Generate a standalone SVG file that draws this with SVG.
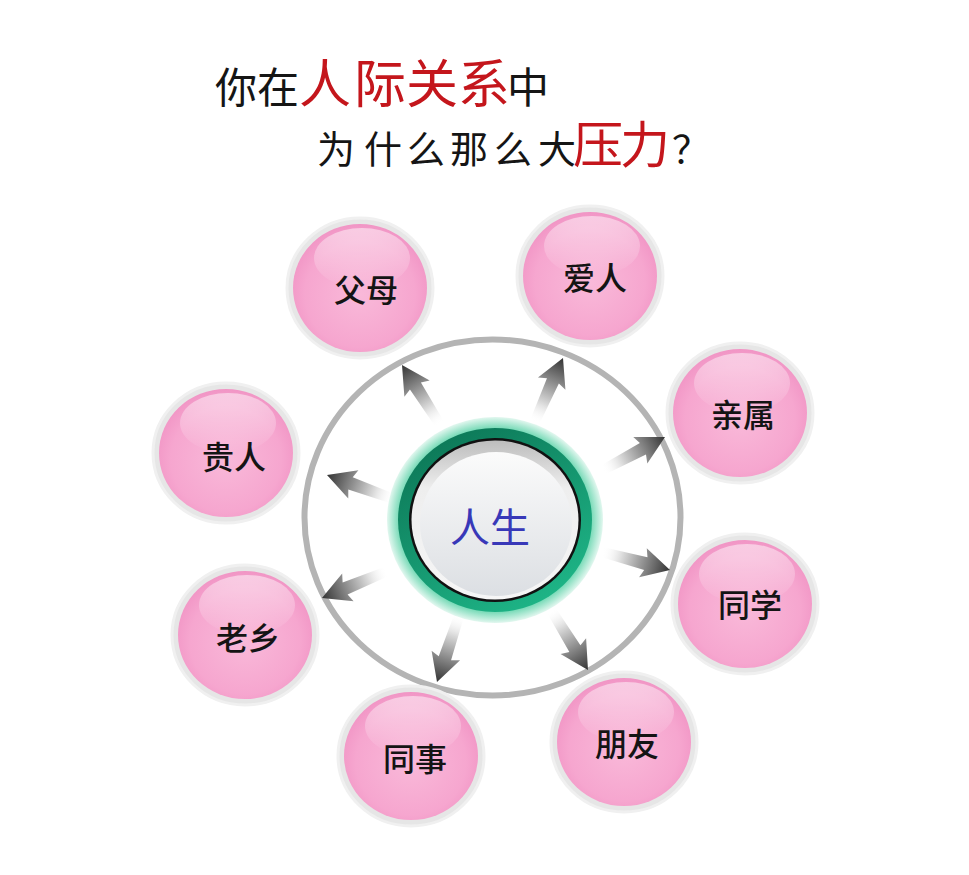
<svg xmlns="http://www.w3.org/2000/svg" width="969" height="875" viewBox="0 0 969 875">
<defs>
<style>
.ttl{font-family:"Noto Sans CJK SC","Noto Sans CJK TC",sans-serif;text-anchor:middle}
.blk{fill:#151515;font-weight:400}
.red{fill:#c4161c;font-weight:400}
.lbl{font-family:"Noto Sans CJK SC",sans-serif;font-size:32px;font-weight:500;fill:#141414;text-anchor:middle}
.halo{fill:#e6e6e6;stroke:#f0f0f0;stroke-width:3}
.pink{fill:url(#pg)}
.gloss{fill:url(#gl)}
.arr{fill:url(#ag)}
</style>
<radialGradient id="pg" cx="50%" cy="55%" r="55%">
<stop offset="0" stop-color="#f9b9d9"/>
<stop offset="0.75" stop-color="#f6a6cf"/>
<stop offset="1" stop-color="#f195c5"/>
</radialGradient>
<linearGradient id="gl" x1="0" y1="0" x2="0" y2="1">
<stop offset="0" stop-color="#ffffff" stop-opacity="0.5"/>
<stop offset="1" stop-color="#ffffff" stop-opacity="0"/>
</linearGradient>
<linearGradient id="ag" x1="0" y1="0" x2="1" y2="0">
<stop offset="0" stop-color="#ffffff" stop-opacity="0"/>
<stop offset="0.3" stop-color="#d8d8d8"/>
<stop offset="0.7" stop-color="#7a7a7a"/>
<stop offset="1" stop-color="#333333"/>
</linearGradient>
<radialGradient id="glow" cx="50%" cy="50%" r="50%">
<stop offset="0.8" stop-color="#3ec79a"/>
<stop offset="0.9" stop-color="#7fdcbb"/>
<stop offset="1" stop-color="#e2f7ef"/>
</radialGradient>
<linearGradient id="band" x1="0.2" y1="0" x2="0.8" y2="1">
<stop offset="0" stop-color="#0c7656"/>
<stop offset="1" stop-color="#1fb889"/>
</linearGradient>
<linearGradient id="rim" x1="0" y1="0" x2="0" y2="1">
<stop offset="0" stop-color="#bdbdbd"/>
<stop offset="0.3" stop-color="#eeeeee"/>
<stop offset="1" stop-color="#f6f6f6"/>
</linearGradient>
<linearGradient id="face" x1="0" y1="0" x2="0" y2="1">
<stop offset="0" stop-color="#fbfbfb"/>
<stop offset="1" stop-color="#dcdfe3"/>
</linearGradient>
<path id="arrow" d="M0,-5 L45,-6.5 L42,-15 L70,0 L42,15 L45,6.5 L0,5 Z"/>
</defs>
<rect width="969" height="875" fill="#ffffff"/>

<g id="title">
<text class="ttl" y="103"><tspan class="blk" font-size="42" x="236 278">你在</tspan><tspan class="red" font-size="52" x="325 380 432 484">人际关系</tspan><tspan class="blk" font-size="42" x="528">中</tspan></text>
<text class="ttl" y="163"><tspan class="blk" font-size="38" x="336 383 426 469 513 557">为什么那么大</tspan><tspan class="red" font-size="50" x="598 645">压力</tspan><tspan class="blk" font-size="38" x="691">？</tspan></text>
</g>

<ellipse id="ring" cx="492.5" cy="517.5" rx="188" ry="178" fill="none" stroke="#b4b4b4" stroke-width="6"/>

<g id="connectors">
<use href="#arrow" class="arr" transform="translate(402,365) rotate(-122.5) translate(-70,0)"/>
<use href="#arrow" class="arr" transform="translate(563,358) rotate(-66.2) translate(-70,0)"/>
<use href="#arrow" class="arr" transform="translate(665,437) rotate(-28) translate(-70,0)"/>
<use href="#arrow" class="arr" transform="translate(670,570) rotate(14.8) translate(-70,0)"/>
<use href="#arrow" class="arr" transform="translate(588,670) rotate(58.4) translate(-70,0)"/>
<use href="#arrow" class="arr" transform="translate(437,682) rotate(108.4) translate(-70,0)"/>
<use href="#arrow" class="arr" transform="translate(322,598) rotate(157.6) translate(-70,0)"/>
<use href="#arrow" class="arr" transform="translate(327,475) rotate(-160.2) translate(-70,0)"/>
</g>

<g id="center">
<ellipse cx="495" cy="520" rx="108" ry="103" fill="url(#glow)"/>
<ellipse cx="495" cy="520" rx="97" ry="92" fill="url(#band)"/>
<ellipse cx="495" cy="520" rx="86" ry="82" fill="#111111"/>
<ellipse cx="495" cy="520" rx="83.5" ry="79.5" fill="url(#rim)"/>
<ellipse cx="496" cy="524" rx="76" ry="72" fill="url(#face)"/>
<text x="490" y="542" font-family="Noto Sans CJK SC, sans-serif" font-size="40" fill="#3838b8" text-anchor="middle">人生</text>
</g>

<g id="n-fumu">
<ellipse class="halo" cx="360" cy="288" rx="73" ry="70"/>
<ellipse class="pink" cx="360" cy="288" rx="67" ry="64"/>
<ellipse class="gloss" cx="362" cy="258" rx="48" ry="30"/>
<text class="lbl" x="366" y="302">父母</text>
</g>
<g id="n-airen">
<ellipse class="halo" cx="590" cy="276" rx="73" ry="70"/>
<ellipse class="pink" cx="590" cy="276" rx="67" ry="64"/>
<ellipse class="gloss" cx="592" cy="246" rx="48" ry="30"/>
<text class="lbl" x="595" y="290">爱人</text>
</g>
<g id="n-qinshu">
<ellipse class="halo" cx="740" cy="413" rx="73" ry="70"/>
<ellipse class="pink" cx="740" cy="413" rx="67" ry="64"/>
<ellipse class="gloss" cx="742" cy="383" rx="48" ry="30"/>
<text class="lbl" x="743" y="427">亲属</text>
</g>
<g id="n-guiren">
<ellipse class="halo" cx="226" cy="453" rx="73" ry="70"/>
<ellipse class="pink" cx="226" cy="453" rx="67" ry="64"/>
<ellipse class="gloss" cx="228" cy="423" rx="48" ry="30"/>
<text class="lbl" x="234" y="469">贵人</text>
</g>
<g id="n-tongxue">
<ellipse class="halo" cx="745" cy="604" rx="73" ry="70"/>
<ellipse class="pink" cx="745" cy="604" rx="67" ry="64"/>
<ellipse class="gloss" cx="747" cy="574" rx="48" ry="30"/>
<text class="lbl" x="750" y="617">同学</text>
</g>
<g id="n-laoxiang">
<ellipse class="halo" cx="245" cy="635" rx="73" ry="70"/>
<ellipse class="pink" cx="245" cy="635" rx="67" ry="64"/>
<ellipse class="gloss" cx="247" cy="605" rx="48" ry="30"/>
<text class="lbl" x="248" y="650">老乡</text>
</g>
<g id="n-tongshi">
<ellipse class="halo" cx="411" cy="756" rx="73" ry="70"/>
<ellipse class="pink" cx="411" cy="756" rx="67" ry="64"/>
<ellipse class="gloss" cx="413" cy="726" rx="48" ry="30"/>
<text class="lbl" x="415" y="771">同事</text>
</g>
<g id="n-pengyou">
<ellipse class="halo" cx="624" cy="742" rx="73" ry="70"/>
<ellipse class="pink" cx="624" cy="742" rx="67" ry="64"/>
<ellipse class="gloss" cx="626" cy="712" rx="48" ry="30"/>
<text class="lbl" x="627" y="756">朋友</text>
</g>
</svg>
